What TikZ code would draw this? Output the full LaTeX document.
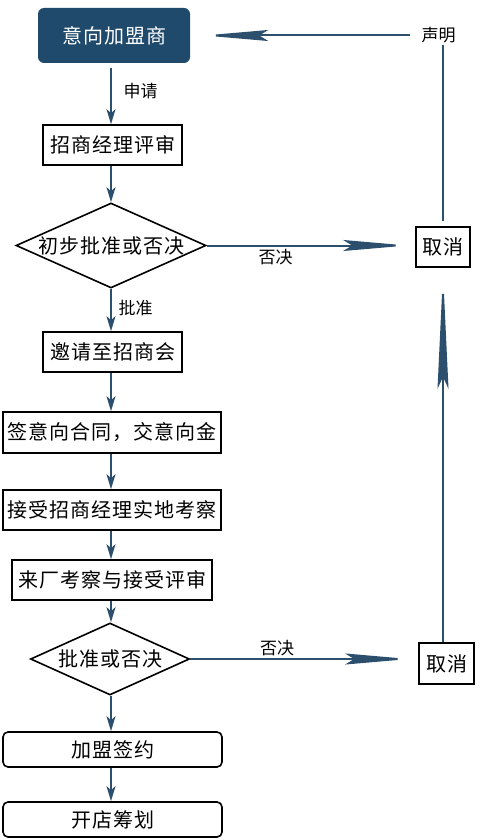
\documentclass[tikz,border=0pt]{standalone}
\usepackage{fontspec}
\setmainfont{Noto Sans CJK SC}
\usetikzlibrary{shapes.geometric,arrows.meta}
\definecolor{linkblue}{HTML}{2C4F6E}
\definecolor{leadblue}{HTML}{1F4A6B}
\newcommand{\boxfont}{\fontsize{20}{24}\selectfont\addfontfeature{LetterSpace=5}}
\newcommand{\tagfont}{\fontsize{17}{20}\selectfont}
\begin{document}
\begin{tikzpicture}[x=1pt,y=-1pt,
                        stepbox/.style={shape=rectangle,draw,line width=1.6pt,inner sep=0pt,font=\boxfont},
                        endbox/.style={stepbox,rounded corners=5pt},
                        leadbox/.style={shape=rectangle,fill=leadblue,rounded corners=6pt,text=white,inner sep=0pt,font=\boxfont},
                        choice/.style={shape=diamond,draw,line width=1.6pt,inner sep=0pt,aspect=2.2,font=\boxfont},
                        tag/.style={inner sep=1pt,font=\tagfont},
                        link/.style={draw=linkblue,line width=2pt,-{Stealth[length=15pt,width=9pt,inset=4pt]}},
                        plain/.style={draw=linkblue,line width=2pt},
                        reject/.style={draw=linkblue,line width=2pt,-{Stealth[length=64pt,width=11pt,inset=9pt]}}]
                        \useasboundingbox (0,0) rectangle (483,840);
                        \coordinate (spine) at (111,0);
                        % main column
                        \node[leadbox,minimum width=152pt,minimum height=55pt] at (114,35.5) (lead) {意向加盟商};
                        \node[stepbox,minimum width=139pt,minimum height=40pt] at (112.5,145) (review) {招商经理评审};
                        \node[choice,minimum width=190pt,minimum height=85pt] at (111,245.5) (check) {初步批准或否决};
                        \node[stepbox,minimum width=139pt,minimum height=40pt] at (112.5,352) (invite) {邀请至招商会};
                        \node[stepbox,minimum width=218pt,minimum height=41pt] at (112,432.5) (sign) {签意向合同，交意向金};
                        \node[stepbox,minimum width=218pt,minimum height=40pt] at (112,510) (visit) {接受招商经理实地考察};
                        \node[stepbox,minimum width=200pt,minimum height=40pt] at (112,580) (factory) {来厂考察与接受评审};
                        \node[choice,minimum width=159pt,minimum height=72pt] at (110,659) (decide) {批准或否决};
                        \node[endbox,minimum width=219pt,minimum height=35pt] at (112.5,749.5) (join) {加盟签约};
                        \node[endbox,minimum width=219pt,minimum height=35pt] at (112.5,819.5) (plan) {开店筹划};
                        % right column
                        \node[stepbox,minimum width=54pt,minimum height=40pt] at (443,247) (cancelA) {取消};
                        \node[stepbox,minimum width=55pt,minimum height=41pt] at (446.5,663.5) (cancelB) {取消};
                        \node[tag] at (438.5,35.5) (statement) {声明};
                        % labels
                        \node[tag] at (140.5,91) (apply) {申请};
                        \node[tag] at (275.5,257) (vetoA) {否决};
                        \node[tag] at (135.5,308) (approve) {批准};
                        \node[tag] at (277,648) (vetoB) {否决};
                        % connectors
                        \draw[link,shorten <=5pt] (lead.south -| spine) -- (review.north -| spine);
                        \draw[link] (review.south -| spine) -- (check.north);
                        \draw[link] (check.south) -- (invite.north -| spine);
                        \draw[link] (invite.south -| spine) -- (sign.north -| spine);
                        \draw[link] (sign.south -| spine) -- (visit.north -| spine);
                        \draw[link] (visit.south -| spine) -- (factory.north -| spine);
                        \draw[link] (factory.south -| spine) -- (decide.north -| spine);
                        \draw[link] (decide.south -| spine) -- (join.north -| spine);
                        \draw[link] (join.south -| spine) -- (plan.north -| spine);
                        \draw[reject,shorten >=8pt] (check.east) -- (check.east -| cancelA.west);
                        \draw[reject,shorten >=9pt] (decide.east) -- (decide.east -| cancelB.west);
                        \draw[reject,-{Stealth[length=116pt,width=11pt,inset=12pt]},shorten >=5pt] (cancelB.north -| cancelA.south) -- (cancelA.south);
                        \draw[plain,shorten <=5pt] (cancelA.north) -- (cancelA.north |- statement.south);
                        \draw[reject,shorten <=10pt,shorten >=14pt] (statement.west) -- (statement.west -| lead.east);
                \end{tikzpicture}
\end{document}
